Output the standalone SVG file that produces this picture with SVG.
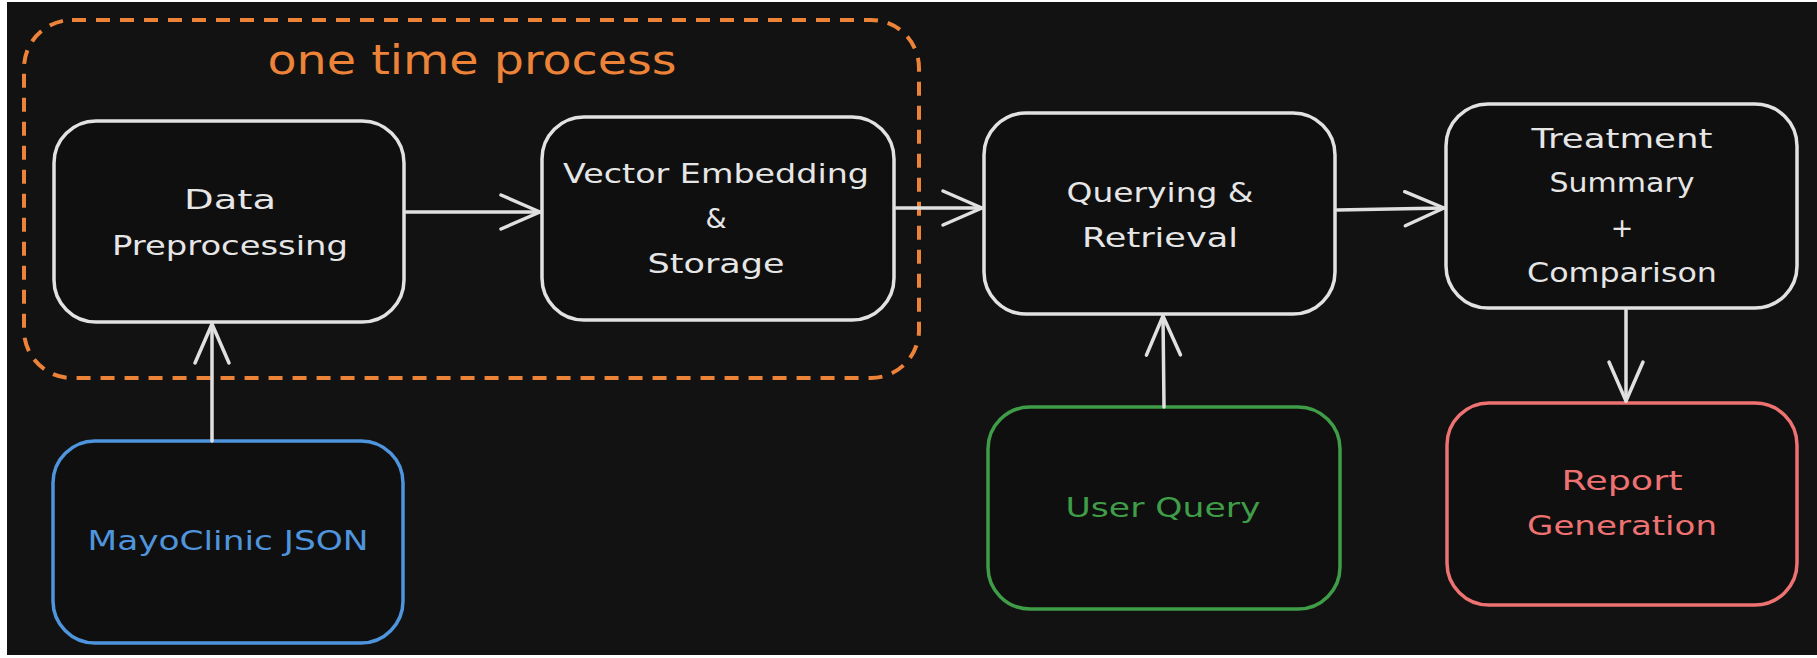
<svg xmlns="http://www.w3.org/2000/svg" width="1817" height="658" viewBox="0 0 1817 658">
<defs>
<style>
.bg{fill:#121212}
.node{fill:#0f0f0f;stroke:#e2e2e2;stroke-width:3.5}
.t{font-family:"DejaVu Sans","Liberation Sans",sans-serif;font-size:27px;text-anchor:middle;fill:#e6e6e6}
.edge{fill:none;stroke:#e0e0e0;stroke-width:3.5;stroke-linecap:round}
</style>
<marker id="arr" markerUnits="userSpaceOnUse" markerWidth="46" markerHeight="40" refX="42" refY="20" orient="auto" viewBox="0 0 46 40">
<path d="M3 3 L42 20 L3 37" fill="none" stroke="#e0e0e0" stroke-width="3.5" stroke-linecap="round" stroke-linejoin="round"/>
</marker>
</defs>
<rect x="0" y="0" width="1817" height="658" fill="#ffffff"/>
<rect class="bg" x="7" y="2" width="1810" height="653"/>

<g id="group-one-time-process">
<rect x="24" y="20" width="895" height="358" rx="48" fill="none" stroke="#ec8338" stroke-width="4" stroke-dasharray="14 10"/>
<text x="472" y="74" font-family="DejaVu Sans, Liberation Sans, sans-serif" font-size="40" fill="#ec8338" text-anchor="middle" textLength="409" lengthAdjust="spacingAndGlyphs">one time process</text>
</g>

<g id="node-data-preprocessing">
<rect class="node" x="54" y="121" width="350" height="201" rx="42"/>
<text class="t" x="230" y="209" textLength="92" lengthAdjust="spacingAndGlyphs">Data</text>
<text class="t" x="230" y="255" textLength="236" lengthAdjust="spacingAndGlyphs">Preprocessing</text>
</g>

<g id="node-vector-embedding">
<rect class="node" x="542" y="117" width="352" height="203" rx="42"/>
<text class="t" x="716" y="183" textLength="306" lengthAdjust="spacingAndGlyphs">Vector Embedding</text>
<text class="t" x="716" y="228">&amp;</text>
<text class="t" x="716" y="273" textLength="137" lengthAdjust="spacingAndGlyphs">Storage</text>
</g>

<g id="node-querying">
<rect class="node" x="984" y="113" width="351" height="201" rx="42"/>
<text class="t" x="1160" y="202" textLength="187" lengthAdjust="spacingAndGlyphs">Querying &amp;</text>
<text class="t" x="1160" y="247" textLength="156" lengthAdjust="spacingAndGlyphs">Retrieval</text>
</g>

<g id="node-treatment">
<rect class="node" x="1446" y="104" width="351" height="204" rx="42"/>
<text class="t" x="1622" y="148" textLength="181" lengthAdjust="spacingAndGlyphs">Treatment</text>
<text class="t" x="1622" y="192" textLength="145" lengthAdjust="spacingAndGlyphs">Summary</text>
<text class="t" x="1622" y="237">+</text>
<text class="t" x="1622" y="282" textLength="190" lengthAdjust="spacingAndGlyphs">Comparison</text>
</g>

<g id="node-mayoclinic">
<rect class="node" x="53" y="441" width="350" height="202" rx="42" style="stroke:#4f95dd"/>
<text class="t" x="228" y="550" style="fill:#4f95dd" textLength="281" lengthAdjust="spacingAndGlyphs">MayoClinic JSON</text>
</g>

<g id="node-user-query">
<rect class="node" x="988" y="407" width="352" height="202" rx="42" style="stroke:#3f9d48"/>
<text class="t" x="1163" y="517" style="fill:#3f9d48" textLength="195" lengthAdjust="spacingAndGlyphs">User Query</text>
</g>

<g id="node-report">
<rect class="node" x="1447" y="403" width="350" height="202" rx="42" style="stroke:#ee7272"/>
<text class="t" x="1622" y="490" style="fill:#ee7272" textLength="121" lengthAdjust="spacingAndGlyphs">Report</text>
<text class="t" x="1622" y="535" style="fill:#ee7272" textLength="190" lengthAdjust="spacingAndGlyphs">Generation</text>
</g>

<g id="connectors">
<path class="edge" d="M406 212 L540 212" marker-end="url(#arr)"/>
<path class="edge" d="M896 208 L982 208" marker-end="url(#arr)"/>
<path class="edge" d="M1337 210 L1444 208" marker-end="url(#arr)"/>
<path class="edge" d="M1626 310 L1626 401" marker-end="url(#arr)"/>
<path class="edge" d="M1164 407 L1163 316" marker-end="url(#arr)"/>
<path class="edge" d="M212 441 L212 324" marker-end="url(#arr)"/>
</g>
</svg>
